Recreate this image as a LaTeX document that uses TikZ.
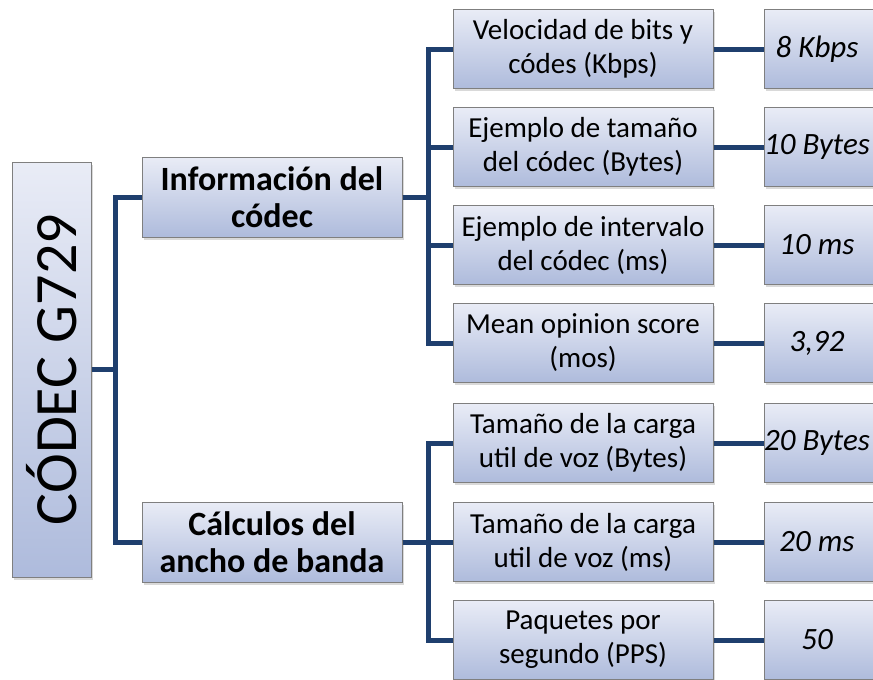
\documentclass[tikz,border=0pt]{standalone}
\usepackage{fontspec}
\setmainfont{Carlito}
\usetikzlibrary{shadows}
\definecolor{codecline}{HTML}{1F3F6E}
\definecolor{codectop}{HTML}{E9ECF6}
\definecolor{codebot}{HTML}{AEBBDC}
\definecolor{codeedge}{HTML}{7F7F7F}
\tikzset{
  box/.style={draw=codeedge,line width=1pt,top color=codectop,bottom color=codebot,
    align=center,inner sep=0pt,
    drop shadow={shadow xshift=1.5pt,shadow yshift=-2.5pt,opacity=0.3}},
  link/.style={draw=codecline,line width=5pt}}
\newcommand{\fR}{\fontsize{60}{72}\selectfont}
\newcommand{\fA}{\fontsize{34}{37}\selectfont\bfseries}
\newcommand{\fB}{\fontsize{29}{34}\selectfont}
\newcommand{\fV}{\fontsize{31}{36}\selectfont\itshape}
% value text sits a little left of the box centre (box runs past the page)
\newcommand{\valtext}[1]{\makebox[106pt]{#1}\hspace{10pt}}

\begin{document}
\begin{tikzpicture}[x=1pt,y=-1pt,
    rootbox/.style={box,minimum width=79pt,minimum height=415pt},
    groupbox/.style={box,font=\fA,minimum width=260pt,minimum height=80pt},
    itembox/.style={box,font=\fB,minimum width=260pt,minimum height=79pt},
    valbox/.style={box,font=\fV,minimum width=116pt,minimum height=79pt}]
  \useasboundingbox (0,0) rectangle (873,680);
  \clip (0,0) rectangle (873,680);

  % Root and the two groups
  \node[rootbox] (root) at (51.5,369.5) {\rotatebox{90}{\fR CÓDEC G729}};
  \node[groupbox] (info) at (272,197) {Información del\\códec};
  \node[groupbox] (calc) at (272,542) {Cálculos del\\ancho de banda};
  \draw[link] (root.east) -- ++(24,0) |- (info.west);
  \draw[link] (root.east) -- ++(24,0) |- (calc.west);

  % Items with their values
  \foreach \n/\y/\g/\t/\v in {
      1/49/info/{Velocidad de bits y\\códes (Kbps)}/{8 Kbps},
      2/147/info/{Ejemplo de tamaño\\del códec (Bytes)}/{10 Bytes},
      3/245/info/{Ejemplo de intervalo\\del códec (ms)}/{10 ms},
      4/343/info/{Mean opinion score\\(mos)}/{3,92},
      5/443/calc/{Tamaño de la carga\\util de voz (Bytes)}/{20 Bytes},
      6/542/calc/{Tamaño de la carga\\util de voz (ms)}/{20 ms},
      7/640/calc/{Paquetes por\\segundo (PPS)}/{50}}{
    \node[itembox] (item\n) at (583,\y) {\t};
    \node[valbox] (val\n) at (822,\y) {\valtext{\v}};
    \draw[link] (\g.east) -- ++(26,0) |- (item\n.west);
    \draw[link] (item\n.east) -- (val\n.west);
  }
\end{tikzpicture}
\end{document}
